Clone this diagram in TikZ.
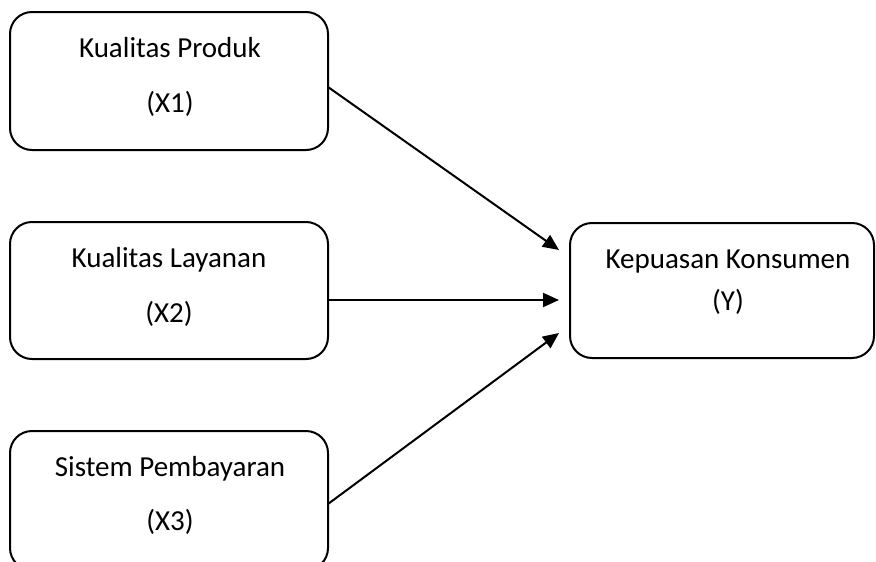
\documentclass[tikz,border=0pt]{standalone}
\usepackage{fontspec}
\setmainfont{Carlito}
\usetikzlibrary{arrows.meta}
\begin{document}
\begin{tikzpicture}[x=1pt,y=-1pt,
  box/.style={draw=black,line width=2pt,rounded corners=22pt},
  lbl/.style={anchor=base,inner sep=0pt,font=\fontsize{29}{34}\selectfont},
  conn/.style={line width=2pt,-{Triangle[length=16pt,width=14pt]}}]
\useasboundingbox (0,0) rectangle (876,562);
\begin{scope}
\clip (0,0) rectangle (876,562);
\draw[box] (10,12) rectangle (328,150);
\draw[box] (10,222) rectangle (328,359);
\draw[box] (10,431) rectangle (328,570);
\draw[box] (570,223) rectangle (874,358);
\end{scope}
\coordinate (x1) at (328,87);
\coordinate (x2) at (328,300);
\coordinate (x3) at (328,504);
\coordinate (y1) at (559,250);
\coordinate (y2) at (559,300);
\coordinate (y3) at (559,333);
\node[lbl] (t1) at (170,57) {Kualitas Produk};
\node[lbl] (s1) at (170,112) {(X1)};
\node[lbl] (t2) at (169,267) {Kualitas Layanan};
\node[lbl] (s2) at (169,322) {(X2)};
\node[lbl] (t3) at (170,476) {Sistem Pembayaran};
\node[lbl] (s3) at (170,530) {(X3)};
\node[lbl] (ty) at (728,268) {Kepuasan Konsumen};
\node[lbl] (sy) at (728,310) {(Y)};
\draw[conn] (x1) -- (y1);
\draw[conn] (x2) -- (y2);
\draw[conn] (x3) -- (y3);
\end{tikzpicture}
\end{document}
